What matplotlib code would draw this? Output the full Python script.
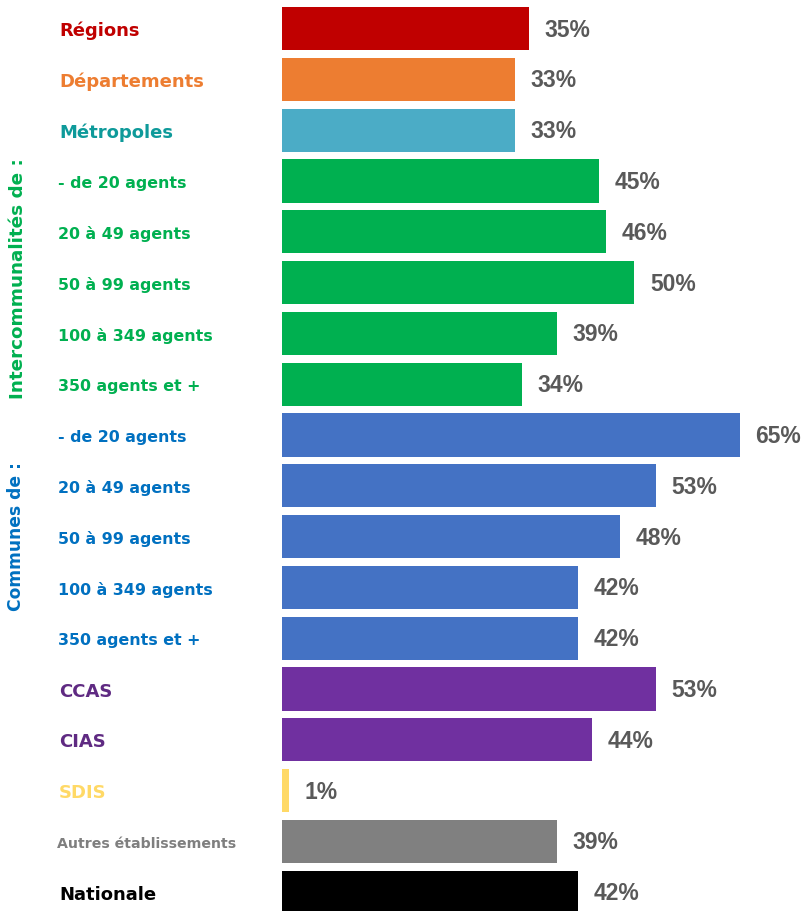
import matplotlib.pyplot as plt
import matplotlib.transforms as mtransforms

labels = ["Régions", "Départements", "Métropoles",
          "- de 20 agents", "20 à 49 agents", "50 à 99 agents", "100 à 349 agents", "350 agents et +",
          "- de 20 agents", "20 à 49 agents", "50 à 99 agents", "100 à 349 agents", "350 agents et +",
          "CCAS", "CIAS", "SDIS", "Autres établissements", "Nationale"]
values = [35, 33, 33, 45, 46, 50, 39, 34, 65, 53, 48, 42, 42, 53, 44, 1, 39, 42]

bar_colors = ["#C00000", "#ED7D31", "#4BACC6"] + ["#00B050"] * 5 + ["#4472C4"] * 5 + \
             ["#7030A0", "#7030A0", "#FFD966", "#808080", "#000000"]
text_colors = ["#C00000", "#ED7D31", "#0E9A9A"] + ["#00B050"] * 5 + ["#0070C0"] * 5 + \
              ["#5F2A82", "#5F2A82", "#FFD966", "#7F7F7F", "#000000"]
big = {"Régions", "Départements", "Métropoles", "CCAS", "CIAS", "SDIS", "Nationale"}

fig = plt.figure(figsize=(8.12, 9.11), dpi=100)
ax = fig.add_axes([282 / 812, 0, 1 - 282 / 812, 1])

pos = list(range(len(values)))
ax.barh(pos, values, height=0.85, color=bar_colors)
ax.set_xlim(0, 75.2)
ax.set_ylim(17.37, -0.561)
ax.axis("off")

for y, v in zip(pos, values):
    ax.text(v + 2.2, y + 0.03, f"{v}%", va="center", ha="left", fontsize=16.5,
            fontweight="bold", color="#595959", family="Liberation Sans")

trans = mtransforms.blended_transform_factory(fig.transFigure, ax.transData)
for y, (lab, c) in enumerate(zip(labels, text_colors)):
    if lab in big:
        fs, x = 13, 59 / 812
    elif lab.startswith("Autres"):
        fs, x = 10.2, 57 / 812
    else:
        fs, x = 11.4, 58 / 812
    ax.text(x, y + 0.05, lab, transform=trans, va="center", ha="left", fontsize=fs,
            fontweight="bold", color=c, family="DejaVu Sans", clip_on=False)

ax.text(18 / 812, 4.93, "Intercommunalités de :", transform=trans, rotation=90,
        va="center", ha="center", fontsize=13.2, fontweight="bold", color="#00B050",
        family="DejaVu Sans", clip_on=False)
ax.text(16 / 812, 10.0, "Communes de :", transform=trans, rotation=90,
        va="center", ha="center", fontsize=12.3, fontweight="bold", color="#0070C0",
        family="DejaVu Sans", clip_on=False)

fig.savefig("out.png", dpi=100)
